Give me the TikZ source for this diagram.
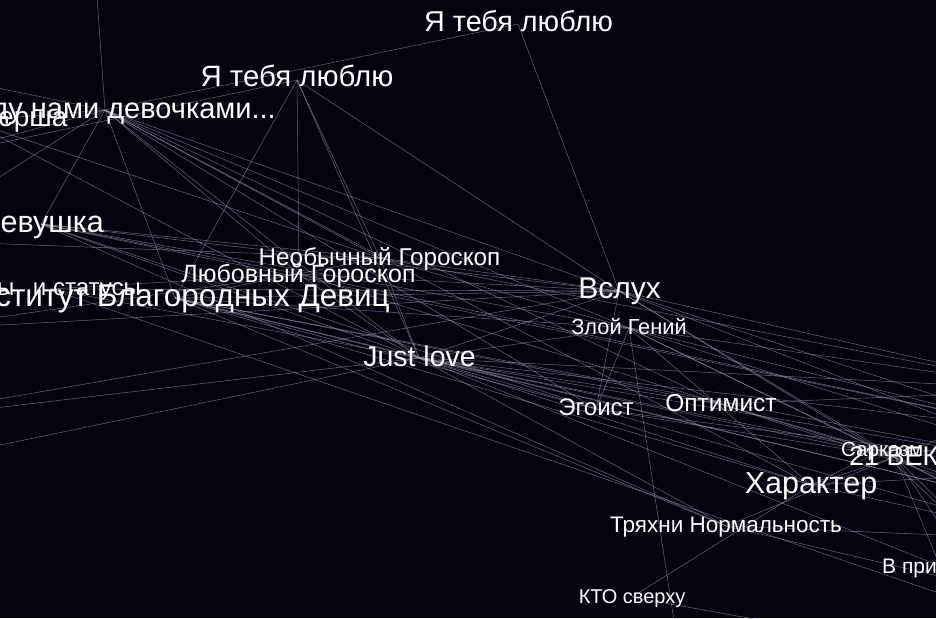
\documentclass[tikz,border=0pt]{standalone}
\usepackage{fontspec}
\setmainfont{Liberation Sans}
\definecolor{bgc}{RGB}{3,3,16}
\definecolor{edgec}{RGB}{170,170,185}
\begin{document}
\begin{tikzpicture}[x=1pt,y=-1pt,
  lbl/.style={text=white, inner sep=0pt, font=\fontsize{#1}{#1}\selectfont},
  ln/.style={draw=edgec, line width=0.55pt, opacity=0.55}]
\useasboundingbox (0,0) rectangle (936,618);
\fill[bgc] (0,0) rectangle (936,618);
\clip (0,0) rectangle (936,618);
% graph points
\coordinate (ya) at (518,24);
\coordinate (yb) at (297,80);
\coordinate (mn) at (105,110);
\coordinate (er) at (-30,121);
\coordinate (dv) at (41,224);
\coordinate (in) at (175,298);
\coordinate (ct) at (50,289);
\coordinate (ng) at (380,258);
\coordinate (lg) at (299,274);
\coordinate (jl) at (419,358);
\coordinate (vs) at (619,291);
\coordinate (zg) at (629,328);
\coordinate (eg) at (596,409);
\coordinate (op) at (721,404);
\coordinate (sk) at (881,451);
\coordinate (vk) at (895,457);
\coordinate (ha) at (811,485);
\coordinate (tn) at (726,526);
\coordinate (kt) at (632,597);
\coordinate (vp) at (940,566);
% off-canvas neighbours
\coordinate (o1) at (93,-60);
\coordinate (o2) at (-90,70);
\coordinate (o3) at (-80,160);
\coordinate (o4) at (-100,240);
\coordinate (o5) at (-90,330);
\coordinate (o6) at (-150,425);
\coordinate (o7) at (-120,470);
\coordinate (r1) at (1060,390);
\coordinate (r2) at (1040,430);
\coordinate (r3) at (1080,470);
\coordinate (r4) at (1030,505);
\coordinate (r5) at (1060,540);
\coordinate (r6) at (1040,600);
\coordinate (r7) at (980,660);
\coordinate (b1) at (680,660);
\coordinate (b2) at (1000,614);
% connectors
\foreach \a/\b in {mn/ya, mn/o1, mn/ng, mn/lg, mn/jl, mn/vs, mn/in, mn/dv, mn/zg, mn/op, mn/ha, mn/o2, mn/o3, mn/o4, mn/eg, mn/er,
  yb/in, yb/lg, yb/ng, yb/jl, yb/vs, yb/o3, ya/vs,
  ng/in, ng/dv, ng/jl, ng/vs, ng/er, ng/o4, ng/zg, ng/r1,
  lg/jl, lg/vs, lg/dv, lg/op, lg/o5, lg/ct, lg/r2,
  jl/o6, jl/o7, jl/dv, jl/in, jl/ct, jl/vs, jl/zg, jl/eg, jl/op, jl/sk, jl/vk, jl/ha, jl/r1, jl/r2, jl/r3, jl/tn, jl/vp, jl/r4,
  vs/o6, vs/dv, vs/in, vs/eg, vs/sk, vs/vk, vs/r1, vs/r2, vs/ct, vs/o5, vs/r3,
  zg/eg, zg/b1, zg/dv, zg/sk, zg/vk, zg/r2, zg/ha, zg/in, zg/r3, zg/r1,
  eg/in, eg/vk, eg/r3, eg/dv, eg/r5,
  op/vk, op/sk, op/r4, op/r1, op/in,
  ha/kt, ha/vk, ha/r5, ha/r3, ha/in, ha/sk,
  tn/vk, tn/r6, tn/in, tn/dv, tn/r5,
  vk/r1, vk/r2, vk/r4, vk/r5, vk/vp, vk/r6, vk/b2,
  sk/r3, sk/r5, sk/r6, ct/b2, in/r4, in/r3, dv/r2, vp/r3, kt/r7, er/jl}
  \draw[ln] (\a) -- (\b);
% labels
\node[lbl=28.8, anchor=base] (tya) at (518.5,32) {Я тебя люблю};
\node[lbl=29.4, anchor=base] (tyb) at (297,86) {Я тебя люблю};
\node[lbl=29, anchor=base east] (tmn) at (276,118) {Между нами девочками...};
\node[lbl=28, anchor=base west] (ter) at (-2,126) {ерша};
\node[lbl=30.5, anchor=base east] (tdv) at (104,232) {Девушка};
\node[lbl=24, anchor=base east] (tct) at (141,295) {Цитаты\hspace*{0.5em} и статусы};
\node[lbl=31.5, anchor=base east] (tin) at (390,306) {Институт Благородных Девиц};
\node[lbl=24.3, anchor=base] (tng) at (379.5,265) {Необычный Гороскоп};
\node[lbl=25, anchor=base] (tlg) at (298.5,282) {Любовный Гороскоп};
\node[lbl=28.5, anchor=base] (tjl) at (419.5,366) {Just love};
\node[lbl=30, anchor=base] (tvs) at (619.5,298.5) {Вслух};
\node[lbl=21.8, anchor=base] (tzg) at (629,334) {Злой Гений};
\node[lbl=24, anchor=base] (teg) at (596,415) {Эгоист};
\node[lbl=24.5, anchor=base] (top) at (721,411) {Оптимист};
\node[lbl=20.5, anchor=base west] (tsk) at (841,456) {Сарказм};
\node[lbl=27, anchor=base west] (tvk) at (849,465) {21 ВЕК};
\node[lbl=30.5, anchor=base] (tha) at (811,493.5) {Характер};
\node[lbl=22.5, anchor=base] (ttn) at (726,532) {Тряхни Нормальность};
\node[lbl=20, anchor=base] (tkt) at (632,603) {КТО сверху};
\node[lbl=21, anchor=base west] (tvp) at (882,573) {В при};
\end{tikzpicture}
\end{document}
